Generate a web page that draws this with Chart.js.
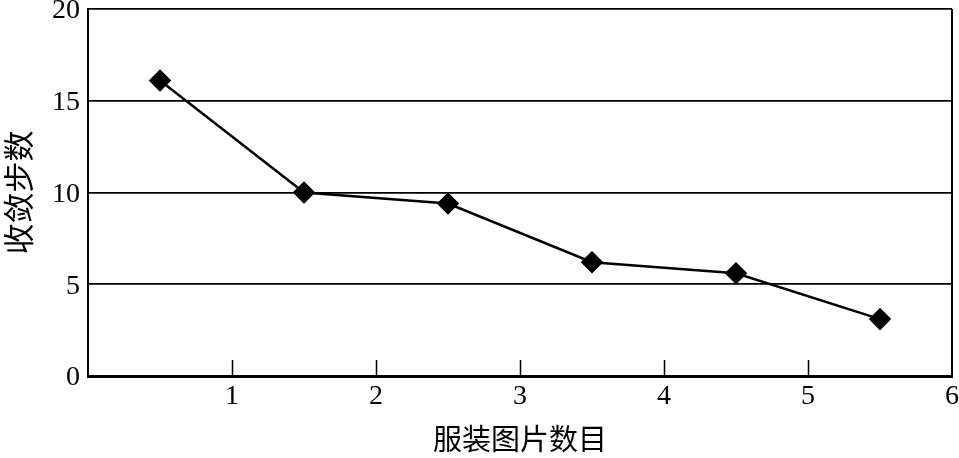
<!DOCTYPE html>
<html>
<head>
<meta charset="utf-8">
<script src="https://cdn.jsdelivr.net/npm/chart.js@4"></script>
<style>
    html, body { margin: 0; padding: 0; background: #fff; }
    #wrap { width: 959px; height: 458px; }
</style>
</head>
<body>
<div id="wrap"><canvas id="lineChart" width="959" height="458"></canvas></div>
<script>
const imageCounts = [0.5, 1.5, 2.5, 3.5, 4.5, 5.5];
const convergeSteps = [16.1, 10.0, 9.4, 6.2, 5.6, 3.1];
const xTicks = [0, 1, 2, 3, 4, 5, 6];
const yTicks = [0, 5, 10, 15, 20];
const xTitle = "服装图片数目";
const yTitle = "收敛步数";

const serif = "'Liberation Serif', 'DejaVu Serif', serif";
const tickFont = { family: serif, size: 28 };
const yTickFont = { family: serif, size: 28, lineHeight: 0.6 };
const titleFont = { family: "'Noto Sans CJK SC', sans-serif", size: 29 };
const yTitleFont = { family: "'Noto Sans CJK SC', sans-serif", size: 31 };

// short tick marks pointing into the plot, like the original
const innerTicks = {
    id: "innerTicks",
    afterDatasetsDraw(chart) {
        const ctx = chart.ctx;
        const x = chart.scales.x;
        const bottom = chart.chartArea.bottom;
        ctx.save();
        ctx.strokeStyle = "#000";
        ctx.lineWidth = 1.5;
        xTicks.slice(1, -1).forEach(v => {
            const px = Math.round(x.getPixelForValue(v)) + 0.5;
            ctx.beginPath();
            ctx.moveTo(px, bottom);
            ctx.lineTo(px, bottom - 16);
            ctx.stroke();
        });
        ctx.restore();
    }
};

new Chart(document.getElementById("lineChart"), {
    type: "line",
    data: {
        datasets: [{
            data: imageCounts.map((x, i) => ({ x: x, y: convergeSteps[i] })),
            borderColor: "#000",
            backgroundColor: "#000",
            borderWidth: 2.5,
            pointStyle: "rectRot",
            pointRadius: 9.5,
            pointHoverRadius: 9.5,
            tension: 0
        }]
    },
    plugins: [innerTicks],
    options: {
        responsive: false,
        animation: false,
        layout: { padding: 0, autoPadding: false },
        plugins: {
            legend: { display: false },
            tooltip: { enabled: false }
        },
        scales: {
            x: {
                type: "linear",
                min: 0,
                max: 6,
                afterBuildTicks: s => { s.ticks = xTicks.map(v => ({ value: v })); },
                afterFit: s => { s.height = 82; s.paddingRight = 7; s.paddingLeft = 0; },
                ticks: {
                    color: "#000",
                    font: tickFont,
                    padding: 4,
                    maxRotation: 0,
                    callback: v => (v === 0 ? "" : v)
                },
                grid: {
                    drawTicks: false,
                    color: c => (c.tick && c.tick.value === 6 ? "#000" : "transparent"),
                    lineWidth: 2
                },
                border: { color: "#000", width: 3 },
                title: {
                    display: true,
                    text: xTitle,
                    color: "#000",
                    font: titleFont,
                    padding: { top: 0, bottom: 2 }
                }
            },
            y: {
                min: 0,
                max: 20,
                afterBuildTicks: s => { s.ticks = yTicks.map(v => ({ value: v })); },
                afterFit: s => { s.width = 88; s.paddingTop = 9; s.paddingBottom = 0; },
                ticks: {
                    color: "#000",
                    font: yTickFont,
                    padding: 8,
                    labelOffset: 2
                },
                grid: {
                    drawTicks: false,
                    color: "#000",
                    lineWidth: 1.8
                },
                border: { color: "#000", width: 2 },
                title: {
                    display: true,
                    text: yTitle,
                    color: "#000",
                    font: yTitleFont,
                    padding: { top: 0, bottom: 0 }
                }
            }
        }
    }
});
</script>
</body>
</html>
